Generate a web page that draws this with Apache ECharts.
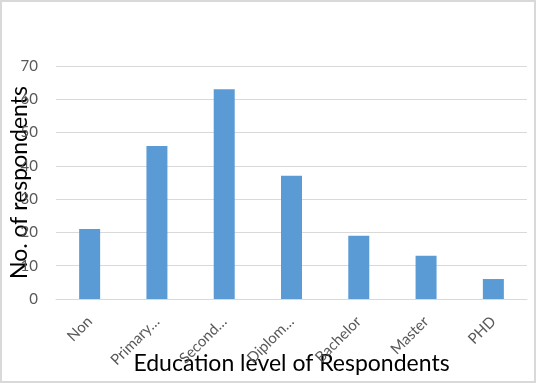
<!DOCTYPE html>
<html>
<head>
<meta charset="utf-8">
<script src="https://cdn.jsdelivr.net/npm/echarts@6/dist/echarts.min.js"></script>
<style>
html,body{margin:0;padding:0;background:#fff;}
#c{width:536px;height:383px;position:absolute;left:0;top:0;}
#b{position:absolute;left:0;top:0;width:536px;height:383px;box-sizing:border-box;border:2px solid #d9d9d9;pointer-events:none;}
</style>
</head>
<body>
<div id="c"></div>
<div id="b"></div>
<script>
var categories = ["Non", "Primary…", "Second…", "Diplom…", "Bachelor", "Master", "PHD"];
var respondents = [21, 46, 63, 37, 19, 13, 6];
var yMin = 0, yMax = 70, yStep = 10;
var xTitle = "Education level of Respondents";
var yTitle = "No. of respondents";

var chart = echarts.init(document.getElementById('c'), null, {renderer: 'canvas'});
chart.setOption({
  backgroundColor: '#ffffff',
  animation: false,
  grid: {left: 56, right: 9, top: 66, bottom: 84, containLabel: false, outerBoundsMode: 'none'},
  xAxis: {
    type: 'category',
    data: categories,
    name: xTitle,
    nameLocation: 'middle',
    nameGap: 53,
    nameMoveOverlap: false,
    nameTextStyle: {fontFamily: 'Lato', fontSize: 23, color: '#000000'},
    axisLine: {lineStyle: {color: '#d9d9d9', width: 1}},
    axisTick: {show: false},
    axisLabel: {rotate: 45, interval: 0, margin: 20, color: '#595959', fontFamily: 'Lato', fontSize: 15}
  },
  yAxis: {
    type: 'value',
    min: yMin, max: yMax, interval: yStep,
    name: yTitle,
    nameLocation: 'middle',
    nameGap: 25,
    nameMoveOverlap: false,
    nameTextStyle: {fontFamily: 'Lato', fontSize: 23, color: '#000000'},
    axisLine: {show: false},
    axisTick: {show: false},
    axisLabel: {margin: 18, color: '#595959', fontFamily: 'Lato', fontSize: 15},
    splitLine: {lineStyle: {color: '#d9d9d9', width: 1}}
  },
  series: [{
    type: 'bar',
    data: respondents,
    barWidth: 21,
    itemStyle: {color: '#5b9bd5'}
  }]
});
</script>
</body>
</html>
